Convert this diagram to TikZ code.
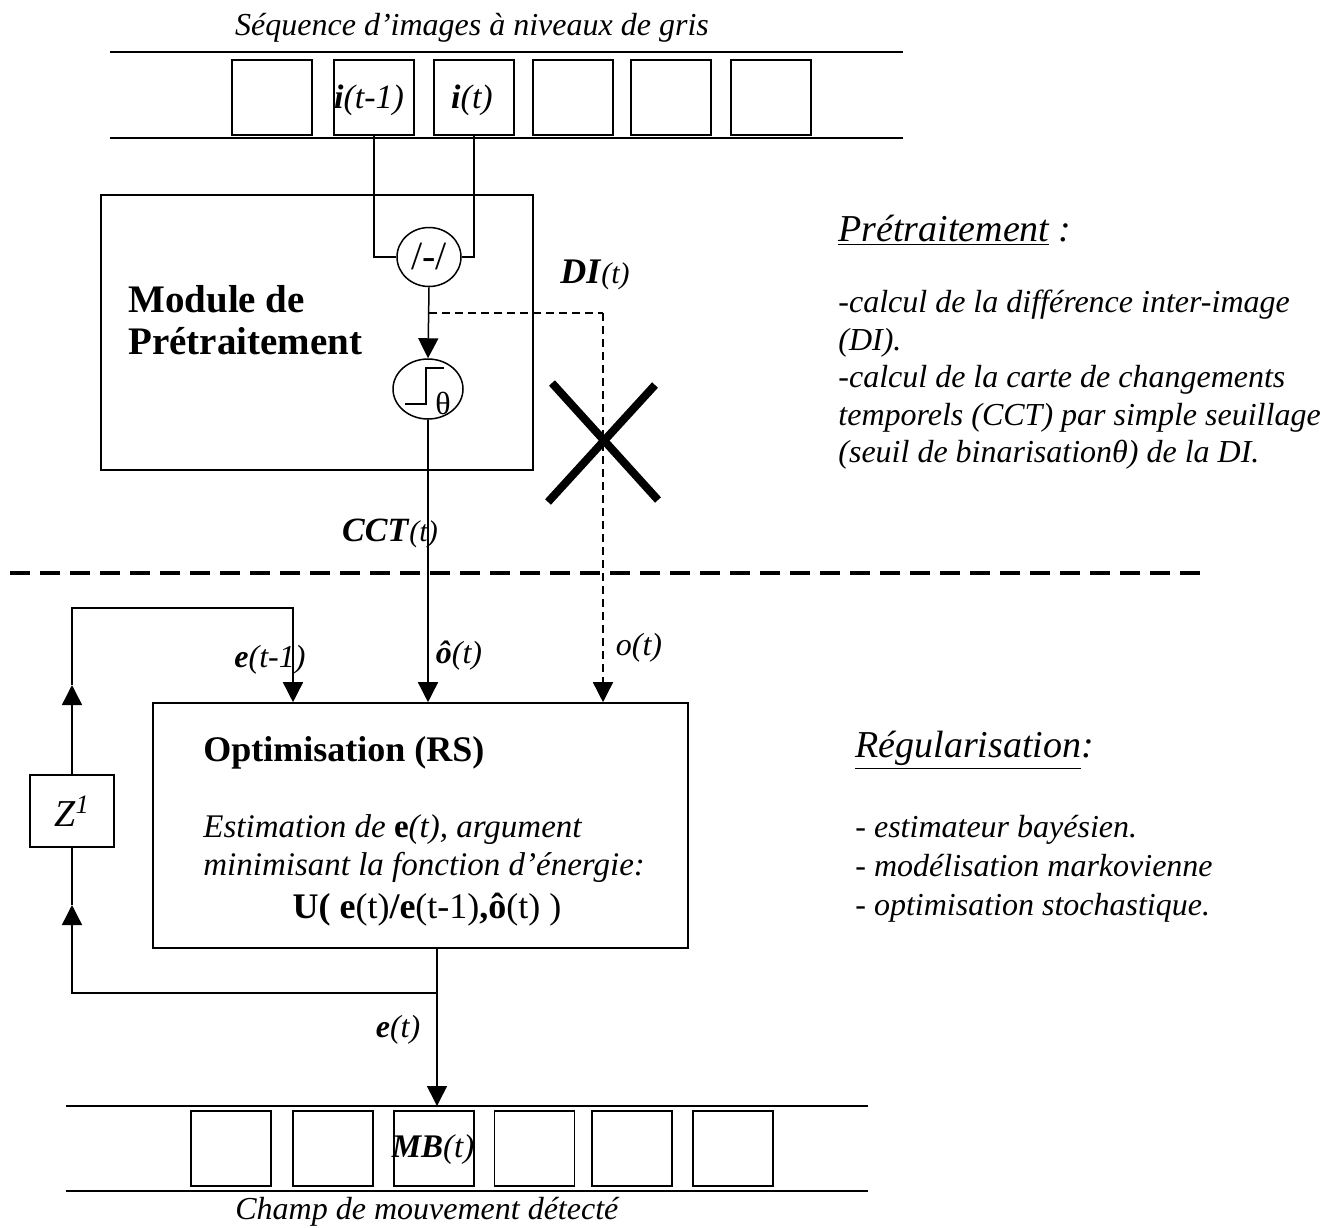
\documentclass[tikz,border=0pt]{standalone}
\usepackage{fontspec}
\setmainfont{Liberation Serif}
\usetikzlibrary{arrows.meta,shapes.geometric,calc}
\newcommand\fsz[2]{\fontsize{#1}{#2}\selectfont}
\begin{document}
\begin{tikzpicture}[x=0.5pt,y=-0.5pt,
  frm/.style={draw,line width=0.8pt,minimum width=40pt,minimum height=37.5pt,inner sep=0pt},
  ln/.style={line width=0.75pt},
  arr/.style={ln,-{Triangle[length=10pt,width=10pt]}},
  dsh/.style={line width=0.75pt,dash pattern=on 4pt off 2.5pt},
  lbl/.style={inner sep=0pt},
  box/.style={draw,line width=0.8pt,inner sep=0pt},
  strip/.style={line width=1pt}]
\useasboundingbox (0,0) rectangle (1332,1227);

% ---- top strip
\node[lbl,font=\fsz{16}{19}\itshape] (ttl) at (472,28) {Séquence d’images à niveaux de gris};
\coordinate (ts1) at (110,52); \coordinate (ts2) at (903,52);
\coordinate (ts3) at (110,138); \coordinate (ts4) at (903,138);
\draw[strip] (ts1) -- (ts2);
\draw[strip] (ts3) -- (ts4);
\foreach \n/\x in {1/272,2/374,3/474,4/573,5/671,6/771} \node[frm] (f\n) at (\x,97.5) {};
\node[lbl] (it1) at (369,100) {\fsz{17}{20}\textbf{\textit{i}}\textit{(t-1)}};
\node[lbl] (it2) at (472,100) {\fsz{17}{20}\textbf{\textit{i}}\textit{(t)}};

% ---- preprocessing module
\node[box,minimum width=216pt,minimum height=137.5pt] (mod) at (317,332.5) {};
\node[lbl,align=left,anchor=west,font=\fsz{19.5}{21}\bfseries] (modl) at (128,320) {Module de\\Prétraitement};
\node[ellipse,draw,ln,minimum width=32pt,minimum height=29.5pt,inner sep=0pt,font=\fsz{20}{22}] (sub) at (429,257) {/-/};
\node[ellipse,draw,ln,minimum width=35pt,minimum height=30pt,inner sep=0pt] (thr) at (428,389) {};
\draw[ln] ($(thr.center)+(-23,15)$) -- ($(thr.center)+(-2,15)$) -- ($(thr.center)+(-2,-21)$) -- ($(thr.center)+(16,-21)$);
\node[lbl,font=\fsz{16}{16}] (th) at (443,403) {θ};

% ---- optimisation box
\node[box,minimum width=267.5pt,minimum height=122.5pt] (opt) at (420.5,825.5) {};
\node[lbl,anchor=west,font=\fsz{18}{21}\bfseries] (optt) at (203,753) {Optimisation (RS)};
\node[lbl,anchor=west,align=left,font=\fsz{16.5}{19}\itshape] (optd) at (203,849) {Estimation de \textbf{\upshape e}(t), argument\\minimisant la fonction d’énergie:};
\node[lbl,font=\fsz{18}{20}] (u) at (427,910) {\textbf{U( e}(t)\textbf{/e}(t-1)\textbf{,ô}(t) )};

% ---- Z box
\node[box,minimum width=42pt,minimum height=36pt,font=\fsz{19}{20}] (z) at (72,811) {\textit{Z}\textsuperscript{\textit{1}}};

% ---- connectors top
\draw[ln] (f2.south) |- (sub.west);
\draw[ln] (f3.south) |- (sub.east);
\draw[arr] (sub.south) -- (thr.north);
\coordinate (dib) at (429,313);
\coordinate (dic) at (603,313);
\draw[dsh] (dib) -- (dic);
\draw[dsh,-{Triangle[length=10pt,width=10pt]}] (dic) -- (dic |- opt.north);
\draw[arr] (thr.south) -- (thr.south |- opt.north);

% ---- feedback loop
\coordinate (up1) at (72,685);
\coordinate (fb2) at (293,608);
\draw[arr] (z.north) -- (up1);
\draw[arr] (up1) |- (fb2) -- (fb2 |- opt.north);
\coordinate (ob) at (437,948);
\coordinate (ob2) at (437,993);
\coordinate (up2) at (72,905);
\draw[arr] (ob) -- (ob2) -| (up2);
\draw[ln] (up2) -- (z.south);

% ---- bottom strip
\coordinate (bs1) at (66,1106); \coordinate (bs2) at (868,1106);
\coordinate (bs3) at (66,1191); \coordinate (bs4) at (868,1191);
\draw[strip] (bs1) -- (bs2);
\draw[strip] (bs3) -- (bs4);
\foreach \n/\x in {1/231,2/333,3/434,4/534.5,5/632,6/733} \node[frm] (g\n) at (\x,1148.5) {};
\draw[arr] (ob2) -- (ob2 |- bs1);
\node[lbl] (mb) at (433,1150) {\fsz{16.5}{19}\textbf{\textit{MB}}\textit{(t)}};
\node[lbl,anchor=west,font=\fsz{16}{19}\itshape] (bttl) at (235,1212) {Champ de mouvement détecté};

% ---- separator and cross
\coordinate (sp1) at (10,573); \coordinate (sp2) at (1200,573);
\draw[line width=1.6pt,dash pattern=on 10pt off 5pt] (sp1) -- (sp2);
\coordinate (x1) at (552,383); \coordinate (x2) at (658,500);
\coordinate (x3) at (655,385); \coordinate (x4) at (548,502);
\draw[line width=4pt] (x1) -- (x2);
\draw[line width=4pt] (x3) -- (x4);

% ---- signal labels
\node[lbl] (di) at (595,275) {\fsz{18}{20}\textbf{\textit{DI}}\fsz{15}{18}\textit{(t)}};
\node[lbl] (cct) at (390,533) {\fsz{17}{20}\textbf{\textit{CCT}}\fsz{15}{18}\textit{(t)}};
\node[lbl] (etm) at (270,660) {\fsz{16}{19}\textbf{\textit{e}}\textit{(t-1)}};
\node[lbl] (oh) at (459,656) {\fsz{16}{19}\textbf{\textit{ô}}\textit{(t)}};
\node[lbl] (o) at (639,648) {\fsz{16}{19}\textit{o(t)}};
\node[lbl] (et) at (398,1030) {\fsz{16}{19}\textbf{\textit{e}}\textit{(t)}};

% ---- right-hand texts
\node[lbl,anchor=west,font=\fsz{19}{22}\itshape] (h1) at (838,230) {\underline{Prétraitement} :};
\node[lbl,anchor=west,align=left,font=\fsz{16}{18.75}\itshape] (b1) at (838,380) {-calcul de la différence inter-image\\(DI).\\-calcul de la carte de changements\\temporels (CCT) par simple seuillage\\(seuil de binarisationθ) de la DI.};
\node[lbl,anchor=west,font=\fsz{19}{22}\itshape] (h2) at (855,750) {\underline{Régularisation}:};
\node[lbl,anchor=west,align=left,font=\fsz{16}{19.5}\itshape] (b2) at (855,869) {- estimateur bayésien.\\- modélisation markovienne\\- optimisation stochastique.};
\end{tikzpicture}
\end{document}
